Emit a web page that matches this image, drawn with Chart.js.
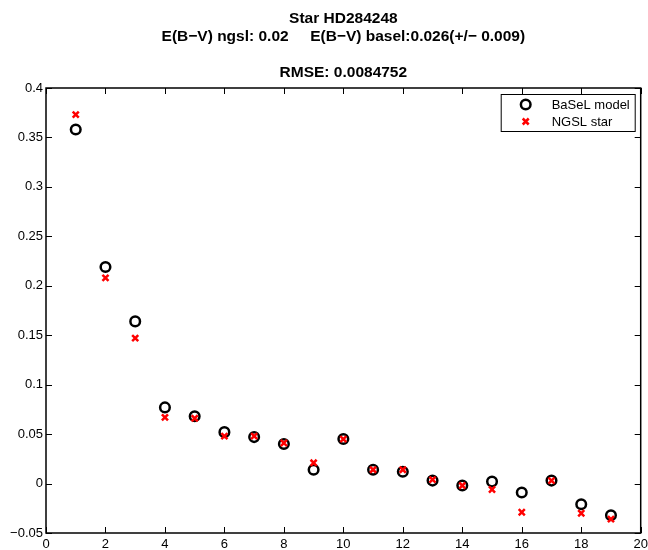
<!DOCTYPE html>
<html>
<head>
<meta charset="utf-8">
<script src="https://cdn.jsdelivr.net/npm/chart.js@4/dist/chart.umd.min.js"></script>
<style>
  html, body { margin: 0; padding: 0; background: #fff; }
  #wrap { width: 648px; height: 550px; }
</style>
</head>
<body>
<div id="wrap"><canvas id="c" width="648" height="550"></canvas></div>
<script>
// data
const filterIndex = [1, 2, 3, 4, 5, 6, 7, 8, 9, 10, 11, 12, 13, 14, 15, 16, 17, 18, 19];
const baselModel = [0.358, 0.219, 0.164, 0.077, 0.068, 0.052, 0.047, 0.040, 0.014, 0.045,
                    0.014, 0.012, 0.003, -0.002, 0.002, -0.009, 0.003, -0.021, -0.032];
const ngslStar = [0.373, 0.208, 0.147, 0.067, 0.066, 0.048, 0.048, 0.041, 0.021, 0.045,
                  0.014, 0.014, 0.004, -0.002, -0.006, -0.029, 0.003, -0.030, -0.036];
const xTickValues = [0, 2, 4, 6, 8, 10, 12, 14, 16, 18, 20];
const yTickValues = [-0.05, 0, 0.05, 0.1, 0.15, 0.2, 0.25, 0.3, 0.35, 0.4];
const yTickLabels = ['\u22120.05', '0', '0.05', '0.1', '0.15', '0.2', '0.25', '0.3', '0.35', '0.4'];
const titleLines = [
  'Star HD284248',
  'E(B\u2212V) ngsl: 0.02     E(B\u2212V) basel:0.026(+/\u2212 0.009)',
  'RMSE: 0.0084752'
];
const seriesLabels = ['BaSeL model', 'NGSL star'];

const FONT = '"Liberation Sans", Arial, Helvetica, sans-serif';

function toPoints(ys) {
  return filterIndex.map((x, i) => ({ x: x, y: ys[i] }));
}

// frame, inward ticks, titles and legend in matlab style
const matlabDecor = {
  id: 'matlabDecor',
  afterDraw(chart) {
    const ctx = chart.ctx;
    const a = chart.chartArea;
    const xs = chart.scales.x, ys = chart.scales.y;
    const tl = 6;
    ctx.save();
    ctx.strokeStyle = '#000';
    ctx.lineWidth = 1;
    ctx.beginPath();
    xTickValues.forEach(v => {
      const px = Math.round(xs.getPixelForValue(v)) + 0.5;
      ctx.moveTo(px, a.bottom); ctx.lineTo(px, a.bottom - tl);
      ctx.moveTo(px, a.top); ctx.lineTo(px, a.top + tl);
    });
    yTickValues.forEach(v => {
      const py = Math.round(ys.getPixelForValue(v)) + 0.5;
      ctx.moveTo(a.left, py); ctx.lineTo(a.left + tl, py);
      ctx.moveTo(a.right, py); ctx.lineTo(a.right - tl, py);
    });
    ctx.stroke();

    ctx.lineWidth = 1.5;
    ctx.strokeRect(a.left, a.top, a.right - a.left, a.bottom - a.top);

    // titles centred on the axes
    const cx = (a.left + a.right) / 2;
    ctx.fillStyle = '#000';
    ctx.textAlign = 'center';
    ctx.textBaseline = 'alphabetic';
    ctx.font = 'bold 15.5px ' + FONT;
    ctx.fillText(titleLines[0], cx, 22.5);
    ctx.fillText(titleLines[1], cx, 41);
    ctx.fillText(titleLines[2], cx, 76.5);

    // legend box
    const bw = 134, bh = 37;
    const bx = a.right - 6 - bw, by = a.top + 6;
    ctx.fillStyle = '#fff';
    ctx.fillRect(bx, by, bw, bh);
    ctx.lineWidth = 1;
    ctx.strokeStyle = '#000';
    ctx.strokeRect(bx + 0.5, by + 0.5, bw, bh);

    const rows = [by + 10.5, by + 27.5];
    // circle marker
    ctx.lineWidth = 2.5;
    ctx.beginPath();
    ctx.arc(bx + 25, rows[0], 4.8, 0, Math.PI * 2);
    ctx.stroke();
    // cross marker
    ctx.strokeStyle = '#ff0000';
    ctx.beginPath();
    ctx.moveTo(bx + 22, rows[1] - 3); ctx.lineTo(bx + 28, rows[1] + 3);
    ctx.moveTo(bx + 28, rows[1] - 3); ctx.lineTo(bx + 22, rows[1] + 3);
    ctx.stroke();

    ctx.fillStyle = '#000';
    ctx.textAlign = 'left';
    ctx.textBaseline = 'middle';
    ctx.font = '13px ' + FONT;
    ctx.fillText(seriesLabels[0], bx + 51, rows[0] + 0.5);
    ctx.fillText(seriesLabels[1], bx + 51, rows[1] + 0.5);
    ctx.restore();
  }
};

new Chart(document.getElementById('c'), {
  type: 'scatter',
  data: {
    datasets: [
      {
        label: seriesLabels[0],
        data: toPoints(baselModel),
        pointStyle: 'circle',
        pointRadius: 4.8,
        pointBorderWidth: 2.5,
        borderColor: '#000',
        backgroundColor: 'rgba(0,0,0,0)',
        order: 1
      },
      {
        label: seriesLabels[1],
        data: toPoints(ngslStar),
        pointStyle: 'crossRot',
        pointRadius: 4.3,
        pointBorderWidth: 2.5,
        borderColor: '#ff0000',
        backgroundColor: '#ff0000',
        order: 0
      }
    ]
  },
  options: {
    responsive: false,
    animation: false,
    events: [],
    layout: { padding: { left: 0, right: 6, top: 88, bottom: 0 } },
    plugins: {
      legend: { display: false },
      title: { display: false },
      tooltip: { enabled: false }
    },
    scales: {
      x: {
        type: 'linear',
        min: 0,
        max: 20,
        afterBuildTicks: s => { s.ticks = xTickValues.map(v => ({ value: v })); },
        afterFit: s => { s.height = 17; s.paddingLeft = 0; s.paddingRight = 0; },
        grid: { display: false, drawTicks: false },
        border: { display: false },
        ticks: {
          autoSkip: false,
          maxRotation: 0,
          padding: 4,
          color: '#000',
          font: { family: FONT, size: 13 },
          callback: v => String(v)
        }
      },
      y: {
        type: 'linear',
        min: -0.05,
        max: 0.4,
        afterBuildTicks: s => { s.ticks = yTickValues.map(v => ({ value: v })); },
        afterFit: s => { s.width = 46; s.paddingTop = 0; s.paddingBottom = 0; },
        grid: { display: false, drawTicks: false },
        border: { display: false },
        ticks: {
          autoSkip: false,
          padding: 3,
          color: '#000',
          font: { family: FONT, size: 13 },
          callback: (v, i) => yTickLabels[i]
        }
      }
    }
  },
  plugins: [matlabDecor]
});
</script>
</body>
</html>
